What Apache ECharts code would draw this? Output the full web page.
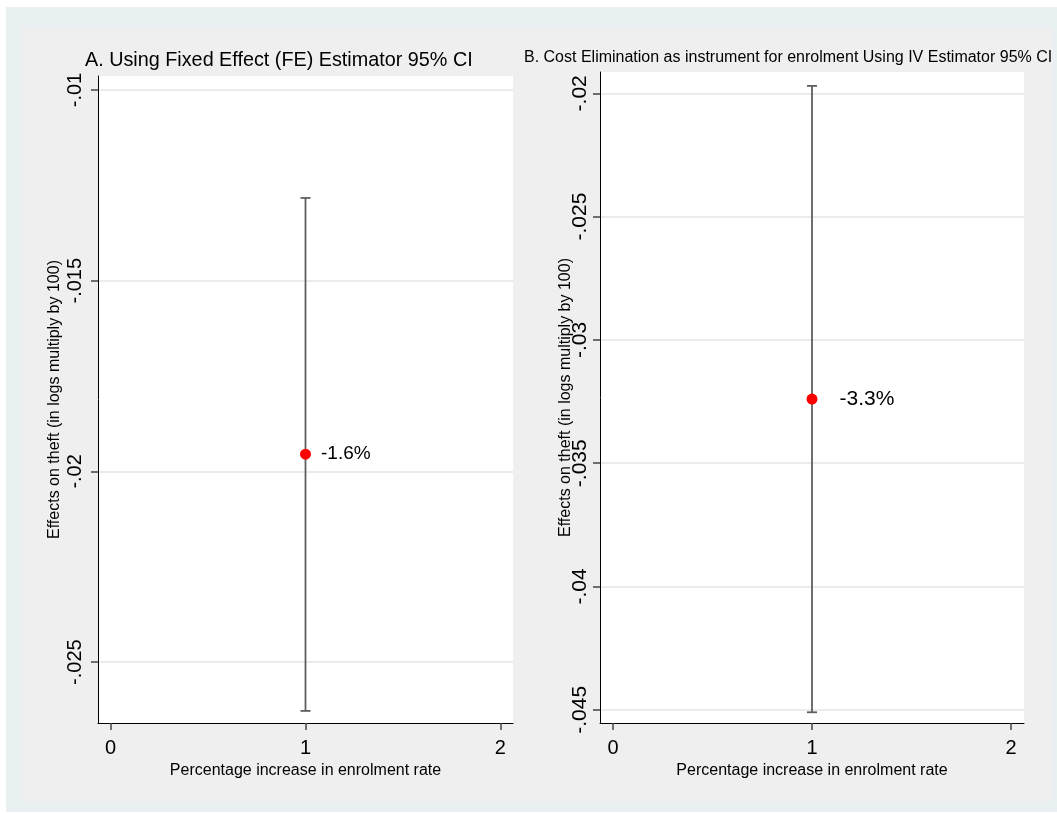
<!DOCTYPE html>
<html>
<head>
<meta charset="utf-8">
<script src="https://cdn.jsdelivr.net/npm/echarts@6/dist/echarts.min.js"></script>
<style>
  html, body { margin: 0; padding: 0; background: #ffffff; }
  #chart { width: 1057px; height: 814px; }
</style>
</head>
<body>
<div id="chart"></div>
<script>
// Panel titles
const panelTitles = [
  'A. Using Fixed Effect (FE) Estimator 95% CI',
  'B. Cost Elimination as instrument for enrolment Using IV Estimator 95% CI'
];
const yAxisName = 'Effects on theft (in logs multiply by 100)';
const xAxisName = 'Percentage increase in enrolment rate';

// Coefficient estimates with 95% confidence bounds (x position = 1 in both panels)
const xPosition = [1, 1];
const pointEstimates = [-0.01955, -0.0324];
const ciLower = [-0.02628, -0.0451];
const ciUpper = [-0.01283, -0.0197];
const estimateLabels = ['-1.6%', '-3.3%'];

// Axis ticks
const xTicks = [0, 1, 2];
const yTicksA = [-0.025, -0.02, -0.015, -0.01];
const yTicksB = [-0.045, -0.04, -0.035, -0.03, -0.025, -0.02];

// Axis ranges
const xRange = [-0.065, 2.065];
const yRangeA = [-0.026597, -0.009633];
const yRangeB = [-0.045535, -0.019136];

const FONT = '"Liberation Sans", Arial, Helvetica, sans-serif';

// Stata-style tick labels without the leading zero: -0.015 -> "-.015"
const stataFmt = v => String(v).replace('0.', '.');

const grids = [
  { left: 98, top: 76, width: 415, height: 647 },
  { left: 600, top: 72, width: 424, height: 651 }
];

function xAxisFor(i) {
  return {
    type: 'value', gridIndex: i, min: xRange[0], max: xRange[1],
    name: xAxisName, nameLocation: 'middle', nameGap: 38,
    nameTextStyle: { fontFamily: FONT, fontSize: 16, color: '#000' },
    axisLine: { show: true, onZero: false, lineStyle: { color: '#000', width: 1 } },
    axisTick: { show: true, length: 7, customValues: xTicks, lineStyle: { color: '#444', width: 1.5 } },
    axisLabel: { customValues: xTicks, margin: 15, fontFamily: FONT, fontSize: 20, color: '#000' },
    splitLine: { show: false }
  };
}

function yAxisFor(i, ticks, range, nameGap, margin, labelSize) {
  return {
    type: 'value', gridIndex: i, min: range[0], max: range[1],
    name: yAxisName, nameLocation: 'middle', nameGap: nameGap, nameRotate: 90,
    nameMoveOverlap: false,
    nameTextStyle: { fontFamily: FONT, fontSize: 16, color: '#000' },
    axisLine: { show: true, onZero: false, lineStyle: { color: '#000', width: 1 } },
    axisTick: { show: true, length: 7, customValues: ticks, lineStyle: { color: '#444', width: 1.5 } },
    axisLabel: {
      customValues: ticks, rotate: 90, margin: margin,
      fontFamily: FONT, fontSize: labelSize, color: '#000',
      formatter: stataFmt
    },
    splitLine: { show: true, lineStyle: { color: '#e4e4e4', width: 1.5 } }
  };
}

// Vertical confidence-interval bar with end caps
function renderCI(params, api) {
  const x = api.value(0);
  const top = api.coord([x, api.value(2)]);
  const bot = api.coord([x, api.value(1)]);
  const half = 5;
  const style = { stroke: '#5f5f5f', lineWidth: 1.8 };
  return {
    type: 'group',
    children: [
      { type: 'line', shape: { x1: top[0], y1: top[1], x2: bot[0], y2: bot[1] }, style },
      { type: 'line', shape: { x1: top[0] - half, y1: top[1], x2: top[0] + half, y2: top[1] }, style },
      { type: 'line', shape: { x1: bot[0] - half, y1: bot[1], x2: bot[0] + half, y2: bot[1] }, style }
    ]
  };
}

const labelDistance = [10, 22];
const labelSize = [19, 21];

const series = [];
for (let i = 0; i < 2; i++) {
  series.push({
    type: 'custom', xAxisIndex: i, yAxisIndex: i,
    renderItem: renderCI,
    encode: { x: 0, y: [1, 2] },
    data: [[xPosition[i], ciLower[i], ciUpper[i]]],
    z: 2, silent: true
  });
  series.push({
    type: 'scatter', xAxisIndex: i, yAxisIndex: i,
    symbol: 'circle', symbolSize: 11,
    itemStyle: { color: '#ff0000', opacity: 1 },
    data: [[xPosition[i], pointEstimates[i]]],
    label: {
      show: true, position: 'right', distance: labelDistance[i],
      formatter: () => estimateLabels[i],
      fontFamily: FONT, fontSize: labelSize[i], color: '#000'
    },
    z: 3, silent: true
  });
}

const chart = echarts.init(document.getElementById('chart'), null, { renderer: 'canvas' });
chart.setOption({
  animation: false,
  backgroundColor: '#ffffff',
  graphic: [
    { type: 'rect', z: -10, shape: { x: 6, y: 7, width: 1051, height: 805 }, style: { fill: '#e8f0f2' } },
    { type: 'rect', z: -9, shape: { x: 22, y: 27, width: 1030, height: 775 }, style: { fill: '#efefef' } }
  ],
  title: [
    { text: panelTitles[0], left: 85, top: 51, padding: 0,
      textStyle: { fontFamily: FONT, fontSize: 19.8, fontWeight: 'normal', color: '#000' } },
    { text: panelTitles[1], left: 524, top: 50, padding: 0,
      textStyle: { fontFamily: FONT, fontSize: 16, fontWeight: 'normal', color: '#000' } }
  ],
  grid: grids.map(g => Object.assign({ show: true, backgroundColor: '#ffffff', borderWidth: 0, containLabel: false }, g)),
  xAxis: [xAxisFor(0), xAxisFor(1)],
  yAxis: [
    yAxisFor(0, yTicksA, yRangeA, 35, 13, 20),
    yAxisFor(1, yTicksB, yRangeB, 26, 9, 21)
  ],
  series: series
});
</script>
</body>
</html>
